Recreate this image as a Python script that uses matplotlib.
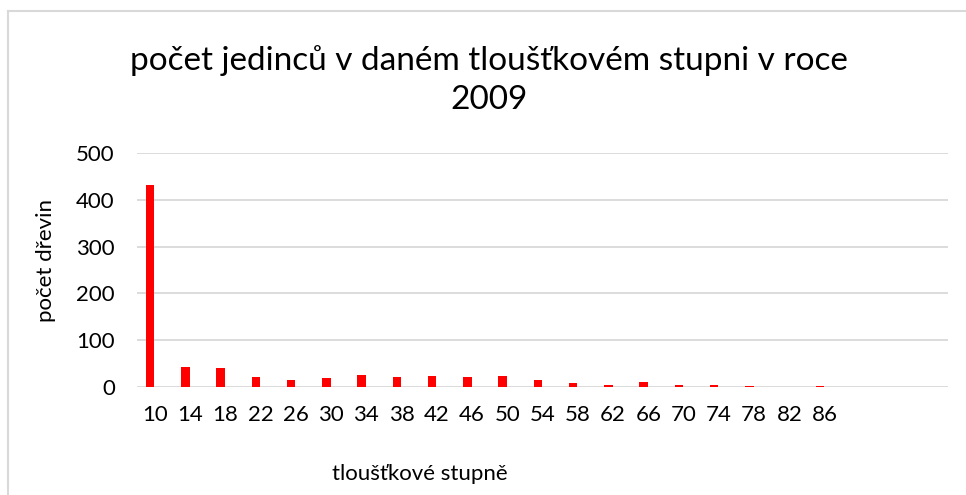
import matplotlib.pyplot as plt
from matplotlib.lines import Line2D
import numpy as np

plt.rcParams['font.family'] = ['Lato', 'DejaVu Sans']

# tloušťkové stupně (last three slots are empty in the original)
categories = ['10', '14', '18', '22', '26', '30', '34', '38', '42', '46',
              '50', '54', '58', '62', '66', '70', '74', '78', '82', '86',
              '', '', '']
counts = [432, 43, 40, 21, 14, 18, 25, 21, 24, 21,
          24, 14, 9, 3, 10, 3, 3, 1, 0, 1]

W, H = 966, 495
fig = plt.figure(figsize=(W / 100, H / 100), dpi=100)
ax = fig.add_axes([137 / W, 1 - 386.7 / H, (948 - 137) / W, (386.7 - 153.5) / H])

x = np.arange(len(categories))
ax.bar(x[:len(counts)] - 0.13, counts, width=0.24, color='#ff0000', zorder=3)

ax.set_xlim(-0.5, len(categories) - 0.5)
ax.set_ylim(0, 500)
ax.set_yticks(range(0, 501, 100))
ax.set_xticks(x)
ax.set_xticklabels(categories)
ax.yaxis.grid(True, color='#d9d9d9', linewidth=1.3)
ax.set_axisbelow(True)
for s in ax.spines.values():
    s.set_visible(False)
ax.tick_params(length=0, labelsize=16, colors='#000000')
ax.tick_params(axis='y', pad=16)
ax.tick_params(axis='x', pad=13)

# title and axis titles placed like in the source sheet
fig.text(489 / W, 1 - 80 / H, 'počet jedinců v daném tloušťkovém stupni v roce\n2009',
         ha='center', va='center', fontsize=24, linespacing=1.38)
fig.text(46 / W, 1 - 261 / H, 'počet dřevin', rotation=90,
         ha='center', va='center', fontsize=16)
fig.text(420 / W, 1 - 474 / H, 'tloušťkové stupně', ha='center', va='center', fontsize=16)

# chart frame (left and top edges visible)
fig.add_artist(Line2D([7.5 / W, 7.5 / W], [0, 1 - 10.5 / H], transform=fig.transFigure,
                      color='#d9d9d9', linewidth=1.5))
fig.add_artist(Line2D([7.5 / W, 1], [1 - 10.5 / H, 1 - 10.5 / H], transform=fig.transFigure,
                      color='#d9d9d9', linewidth=1.5))

fig.savefig('out.png', dpi=100)
